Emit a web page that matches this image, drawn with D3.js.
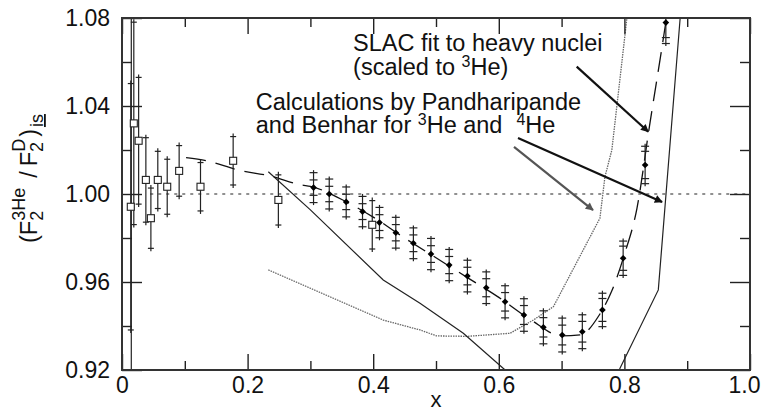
<!DOCTYPE html>
<html>
<head>
<meta charset="utf-8">
<script src="https://cdn.jsdelivr.net/npm/d3@7"></script>
<style>
  body { margin: 0; background: #fff; }
  text { font-family: "Liberation Sans", Arial, Helvetica, sans-serif; fill: #111; }
</style>
</head>
<body>
<svg id="chart" width="761" height="413"></svg>
<script>
// open squares (low x data set)
const openX   = [0.0140, 0.0148, 0.0188, 0.0265, 0.038, 0.046, 0.057, 0.072, 0.091, 0.125, 0.177, 0.249, 0.3985];
const openY   = [0.9942, 0.9100, 1.0321, 1.0242, 1.0064, 0.9890, 1.0064, 1.0033, 1.0105, 1.0033, 1.0151, 0.9973, 0.9860];
const openErr = [0.0560, 0.1900, 0.0460, 0.0288, 0.0192, 0.0137, 0.0130, 0.0125, 0.0115, 0.0110, 0.0110, 0.0114, 0.0110];

// filled diamonds, with inner (stat) and outer (total) errors
const diaX    = [0.305, 0.330, 0.357, 0.383, 0.410, 0.436, 0.464, 0.492, 0.521, 0.550, 0.580, 0.610, 0.640, 0.671, 0.701, 0.733, 0.765, 0.798, 0.833, 0.866];
const diaY    = [1.0029, 1.0000, 0.9964, 0.9920, 0.9870, 0.9824, 0.9776, 0.9727, 0.9677, 0.9627, 0.9574, 0.9510, 0.9450, 0.9394, 0.9359, 0.9374, 0.9473, 0.9708, 1.0132, 1.0779];
const diaStat = [0.0035, 0.0035, 0.0035, 0.0036, 0.0036, 0.0037, 0.0038, 0.0038, 0.0039, 0.0040, 0.0041, 0.0042, 0.0043, 0.0044, 0.0045, 0.0047, 0.0052, 0.0055, 0.0062, 0.0068];
const diaTot  = [0.0068, 0.0068, 0.0068, 0.0069, 0.0069, 0.0070, 0.0070, 0.0071, 0.0071, 0.0072, 0.0072, 0.0073, 0.0074, 0.0075, 0.0077, 0.0077, 0.0076, 0.0078, 0.0085, 0.0095];

// SLAC fit (long dashes)
const slacX = [0.102, 0.135, 0.185, 0.236, 0.286, 0.30, 0.35, 0.40, 0.45, 0.50, 0.55, 0.60, 0.65, 0.70, 0.73, 0.76, 0.78, 0.80, 0.82, 0.84, 0.86, 0.875];
const slacY = [1.0165, 1.0151, 1.0109, 1.0082, 1.0041, 1.0035, 0.9975, 0.9895, 0.9800, 0.9710, 0.9620, 0.9530, 0.9430, 0.9355, 0.9360, 0.9450, 0.9560, 0.9725, 0.9935, 1.0310, 1.0670, 1.0950];

// calculation for 4He (solid)
const he4X = [0.233, 0.300, 0.416, 0.4745, 0.5435, 0.610, 0.650, 0.700, 0.750, 0.793, 0.854, 0.8885, 0.895];
const he4Y = [1.0101, 0.9928, 0.9609, 0.9503, 0.9367, 0.9200, 0.9050, 0.8930, 0.8980, 0.9208, 0.9564, 1.0790, 1.1000];

// calculation for 3He (dotted)
const he3X = [0.233, 0.416, 0.4745, 0.501, 0.550, 0.618, 0.655, 0.687, 0.761, 0.769, 0.780, 0.8036, 0.810];
const he3Y = [0.9655, 0.9427, 0.9382, 0.9355, 0.9353, 0.9367, 0.9427, 0.9488, 0.9890, 1.0078, 1.0200, 1.0790, 1.0960];

const xMajor = [0, 0.2, 0.4, 0.6, 0.8, 1.0];
const xMinor = [0.1, 0.3, 0.5, 0.7, 0.9];
const yMajor = [0.92, 0.96, 1.00, 1.04, 1.08];
const yMinor = [0.94, 0.98, 1.02, 1.06];

const svg = d3.select("#chart");
const x = d3.scaleLinear().domain([0, 1]).range([122, 750]);
const y = d3.scaleLinear().domain([0.92, 1.08]).range([370, 18]);

svg.append("defs").append("clipPath").attr("id", "plot")
    .append("rect").attr("x", 122).attr("y", 18).attr("width", 628).attr("height", 352);

function arrowMarker(id, color) {
    svg.select("defs").append("marker")
        .attr("id", id)
        .attr("viewBox", "0 0 10 10")
        .attr("refX", 9).attr("refY", 5)
        .attr("markerWidth", 12).attr("markerHeight", 8)
        .attr("markerUnits", "userSpaceOnUse")
        .attr("orient", "auto")
        .append("path").attr("d", "M0,0L10,5L0,10Z").attr("fill", color);
}
arrowMarker("headBlack", "#111");
arrowMarker("headGray", "#555");

const g = svg.append("g").attr("clip-path", "url(#plot)");

// reference line at 1
g.append("line")
    .attr("x1", x(0.045)).attr("x2", x(1))
    .attr("y1", y(1)).attr("y2", y(1))
    .attr("stroke", "#222").attr("stroke-width", 1.2).attr("stroke-dasharray", "3,5");

const line = d3.line().x(d => x(d[0])).y(d => y(d[1]));

g.append("path").datum(d3.zip(he3X, he3Y)).attr("d", line)
    .attr("fill", "none").attr("stroke", "#666").attr("stroke-width", 1.3).attr("stroke-dasharray", "1.5,1");
g.append("path").datum(d3.zip(he4X, he4Y)).attr("d", line)
    .attr("fill", "none").attr("stroke", "#222").attr("stroke-width", 1.2);
g.append("path").datum(d3.zip(slacX, slacY)).attr("d", line.curve(d3.curveMonotoneX))
    .attr("fill", "none").attr("stroke", "#111").attr("stroke-width", 1.3).attr("stroke-dasharray", "20,10");

// open squares with error bars
const openData = d3.zip(openX, openY, openErr);
g.selectAll(".obar").data(openData).enter().append("line")
    .attr("x1", d => x(d[0])).attr("x2", d => x(d[0]))
    .attr("y1", d => y(d[1] + d[2]) - 3).attr("y2", d => y(d[1] - d[2]) + 3)
    .attr("stroke", "#222").attr("stroke-width", 1.2);
[1, -1].forEach(s => {
    g.selectAll(null).data(openData).enter().append("line")
        .attr("x1", d => x(d[0]) - 3).attr("x2", d => x(d[0]) + 3)
        .attr("y1", d => y(d[1] + s * d[2])).attr("y2", d => y(d[1] + s * d[2]))
        .attr("stroke", "#222").attr("stroke-width", 1.2);
});
g.selectAll(".osq").data(openData).enter().append("rect")
    .attr("x", d => x(d[0]) - 3.5).attr("y", d => y(d[1]) - 3.5)
    .attr("width", 7).attr("height", 7)
    .attr("fill", "#fff").attr("stroke", "#222").attr("stroke-width", 1.1);

// diamonds with double error bars
const diaData = d3.zip(diaX, diaY, diaStat, diaTot);
g.selectAll(".dbar").data(diaData).enter().append("line")
    .attr("x1", d => x(d[0])).attr("x2", d => x(d[0]))
    .attr("y1", d => y(d[1] + d[3]) - 2.5).attr("y2", d => y(d[1] - d[3]) + 2.5)
    .attr("stroke", "#222").attr("stroke-width", 1.2);
[2, 3].forEach(k => {
    [1, -1].forEach(s => {
        g.selectAll(null).data(diaData).enter().append("line")
            .attr("x1", d => x(d[0]) - 4).attr("x2", d => x(d[0]) + 4)
            .attr("y1", d => y(d[1] + s * d[k])).attr("y2", d => y(d[1] + s * d[k]))
            .attr("stroke", "#222").attr("stroke-width", 1.2);
    });
});
g.selectAll(".dia").data(diaData).enter().append("path")
    .attr("transform", d => `translate(${x(d[0])},${y(d[1])}) rotate(45)`)
    .attr("d", d3.symbol(d3.symbolSquare).size(22))
    .attr("fill", "#000");

// axes: ticks on all four sides, pointing inward
function addAxis(axis, tx, ty, values, size, fmt) {
    const a = svg.append("g").attr("transform", `translate(${tx},${ty})`)
        .call(axis.tickValues(values).tickSize(-size).tickPadding(fmt ? 7 : 0).tickFormat(fmt || ""));
    a.select(".domain").remove();
    a.selectAll("line").attr("stroke", "#222").attr("stroke-width", 1.4);
    a.selectAll("text").style("font-size", "23px").attr("fill", "#111");
    return a;
}
const fx = v => v === 0 ? "0" : d3.format(".1f")(v);
const xl = addAxis(d3.axisBottom(x), 0, 370, xMajor, 16, fx);
// the last label sits against the right edge of the picture
xl.selectAll("text").filter(d => d === 1).attr("text-anchor", "end").attr("x", 10);
addAxis(d3.axisBottom(x), 0, 370, xMinor, 9);
addAxis(d3.axisTop(x), 0, 18, xMajor, 16);
addAxis(d3.axisTop(x), 0, 18, xMinor, 9);
const yl = addAxis(d3.axisLeft(y), 122, 0, yMajor, 20, d3.format(".2f"));
yl.selectAll("text").attr("dx", "-5");
addAxis(d3.axisLeft(y), 122, 0, yMinor, 10);
addAxis(d3.axisRight(y), 750, 0, yMajor, 20);
addAxis(d3.axisRight(y), 750, 0, yMinor, 10);

svg.append("rect").attr("x", 122).attr("y", 18).attr("width", 628).attr("height", 352)
    .attr("fill", "none").attr("stroke", "#333").attr("stroke-width", 2);

// annotations; parts are [text, dy, dx, small]
function label(xv, yv, parts) {
    const t = svg.append("text").attr("x", x(xv)).attr("y", y(yv)).style("font-size", "23.5px");
    parts.forEach(p => {
        const s = t.append("tspan").text(p[0]);
        if (p[1]) s.attr("dy", p[1]);
        if (p[2]) s.attr("dx", p[2]);
        if (p[3]) s.style("font-size", "16px");
    });
}
label(0.368, 1.0650, [["SLAC fit to heavy nuclei"]]);
label(0.368, 1.0541, [["(scaled to "], ["3", -8, 0, true], ["He)", 8]]);
label(0.213, 1.0382, [["Calculations by Pandharipande"]]);
label(0.213, 1.0277, [["and Benhar for "], ["3", -8, 0, true], ["He and", 8], ["4", -8, 14, true], ["He", 8]]);

svg.append("line")
    .attr("x1", x(0.724)).attr("y1", y(1.0579)).attr("x2", x(0.838)).attr("y2", y(1.0283))
    .attr("stroke", "#111").attr("stroke-width", 2.2).attr("marker-end", "url(#headBlack)");
svg.append("line")
    .attr("x1", x(0.6306)).attr("y1", y(1.0255)).attr("x2", x(0.860)).attr("y2", y(0.9964))
    .attr("stroke", "#111").attr("stroke-width", 2.2).attr("marker-end", "url(#headBlack)");
svg.append("line")
    .attr("x1", x(0.6242)).attr("y1", y(1.0214)).attr("x2", x(0.750)).attr("y2", y(0.9927))
    .attr("stroke", "#555").attr("stroke-width", 2.2).attr("marker-end", "url(#headGray)");

// axis titles
svg.append("text").attr("x", x(0.5)).attr("y", 407).attr("text-anchor", "middle")
    .style("font-size", "22px").text("x");

const yt = svg.append("text").attr("transform", "translate(37,243) rotate(-90)").style("font-size", "23.5px");
yt.append("tspan").text("(F");
yt.append("tspan").text("2").style("font-size", "18px").attr("dy", 6);
yt.append("tspan").text("3He").style("font-size", "18px").attr("dx", -10).attr("dy", -18);
yt.append("tspan").text("/").attr("dx", 10).attr("dy", 12);
yt.append("tspan").text("F").attr("dx", 5);
yt.append("tspan").text("2").style("font-size", "18px").attr("dy", 6);
yt.append("tspan").text("D").style("font-size", "18px").attr("dx", -10).attr("dy", -18);
yt.append("tspan").text(")").attr("dx", 2).attr("dy", 12);
yt.append("tspan").text("is").style("font-size", "18px").attr("dx", 2).attr("dy", 6).style("text-decoration", "underline");
</script>
</body>
</html>
